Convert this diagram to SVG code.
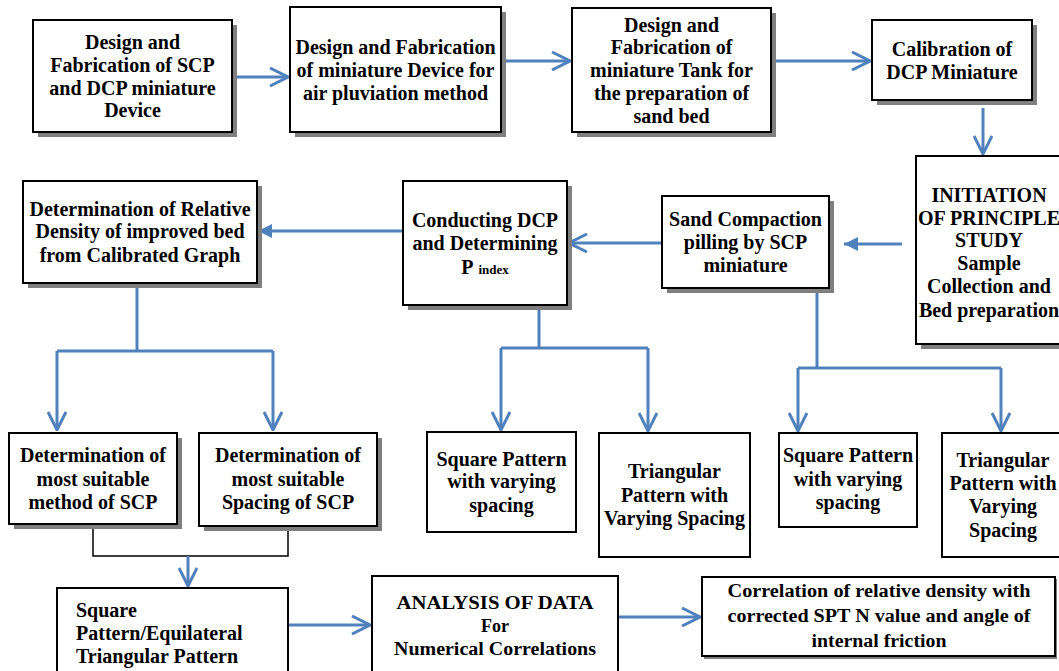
<svg xmlns="http://www.w3.org/2000/svg" width="1059" height="671" viewBox="0 0 1059 671">
  <style>
    .sh { fill: #7f7f7f; stroke: none; }
    .bx { fill: #fff; stroke: #000; stroke-width: 2; }
    .t { font-family: "Liberation Serif", "Times New Roman", serif; font-weight: bold; font-size: 20px; fill: #000; text-anchor: middle; }
    .s { font-size: 18px; }
    .l { text-anchor: start; }
    .c { fill: none; stroke: #4f81bd; stroke-width: 3; }
    .k { fill: none; stroke: #000; stroke-width: 1.5; }
  </style>
  <defs>
    <marker id="open" viewBox="0 0 20 20" refX="19" refY="10" markerWidth="20" markerHeight="20" markerUnits="userSpaceOnUse" orient="auto">
      <path d="M1,1 L19,10 L1,19" fill="none" stroke="#4f81bd" stroke-width="3"/>
    </marker>
    <marker id="solid" viewBox="0 0 14 14" refX="14" refY="7" markerWidth="14" markerHeight="14" markerUnits="userSpaceOnUse" orient="auto">
      <path d="M0,0 L14,7 L0,14 Z" fill="#4f81bd"/>
    </marker>
  </defs>

  <rect width="1059" height="671" fill="#fff"/>

  <!-- connectors -->
  <g id="connectors">
    <path class="c" d="M232,77 H288" marker-end="url(#open)"/>
    <path class="c" d="M501,61 H570" marker-end="url(#open)"/>
    <path class="c" d="M771,61 H870" marker-end="url(#open)"/>
    <path class="c" d="M983,108 V154" marker-end="url(#open)"/>
    <path class="c" d="M902,244 H844" marker-end="url(#solid)"/>
    <path class="c" d="M662,243 H569" marker-end="url(#open)"/>
    <path class="c" d="M403,231 H258" marker-end="url(#solid)"/>
    <!-- relative density branches -->
    <path class="c" d="M137,283 V351 M57,351 H273"/>
    <path class="c" d="M57,351 V430" marker-end="url(#open)"/>
    <path class="c" d="M273,351 V430" marker-end="url(#open)"/>
    <!-- DCP branches -->
    <path class="c" d="M539,305 V348 M501,348 H648"/>
    <path class="c" d="M501,348 V430" marker-end="url(#open)"/>
    <path class="c" d="M648,348 V431" marker-end="url(#open)"/>
    <!-- SCP branches -->
    <path class="c" d="M817,288 V368 M798,368 H1001"/>
    <path class="c" d="M798,368 V431" marker-end="url(#open)"/>
    <path class="c" d="M1001,368 V431" marker-end="url(#open)"/>
    <!-- join of method and spacing -->
    <path class="k" d="M93,524 V556 H288 V526"/>
    <path class="c" d="M188,556 V586" marker-end="url(#open)"/>
    <path class="c" d="M288,625 H370" marker-end="url(#open)"/>
    <path class="c" d="M618,617 H700" marker-end="url(#open)"/>
  </g>

  <g id="design-scp-dcp">
    <rect class="sh" x="38" y="25" width="199" height="112"/>
    <rect class="bx" x="33" y="20" width="199" height="112"/>
    <text class="t" x="132.5" y="49">Design and</text>
    <text class="t" x="132.5" y="72">Fabrication of SCP</text>
    <text class="t" x="132.5" y="95">and DCP miniature</text>
    <text class="t" x="132.5" y="117">Device</text>
  </g>

  <g id="design-pluviation">
    <rect class="sh" x="295" y="12" width="211" height="125"/>
    <rect class="bx" x="290" y="7" width="211" height="125"/>
    <text class="t" x="395.5" y="54">Design and Fabrication</text>
    <text class="t" x="395.5" y="77">of miniature Device for</text>
    <text class="t" x="395.5" y="100">air pluviation method</text>
  </g>

  <g id="design-tank">
    <rect class="sh" x="577" y="13" width="199" height="124"/>
    <rect class="bx" x="572" y="8" width="199" height="124"/>
    <text class="t" x="671.5" y="32">Design and</text>
    <text class="t" x="671.5" y="54">Fabrication of</text>
    <text class="t" x="671.5" y="77">miniature Tank for</text>
    <text class="t" x="671.5" y="100">the preparation of</text>
    <text class="t" x="671.5" y="123">sand bed</text>
  </g>

  <g id="calibration">
    <rect class="sh" x="877" y="25" width="160" height="80"/>
    <rect class="bx" x="872" y="20" width="160" height="80"/>
    <text class="t" x="952" y="56">Calibration of</text>
    <text class="t" x="952" y="79">DCP Miniature</text>
  </g>

  <g id="initiation">
    <rect class="sh" x="921" y="161" width="146" height="188"/>
    <rect class="bx" x="916" y="156" width="146" height="188"/>
    <text class="t" x="989" y="202">INITIATION</text>
    <text class="t" x="989" y="225">OF PRINCIPLE</text>
    <text class="t" x="989" y="247">STUDY</text>
    <text class="t" x="989" y="270">Sample</text>
    <text class="t" x="989" y="293">Collection and</text>
    <text class="t" x="989" y="317">Bed preparation</text>
  </g>

  <g id="sand-compaction">
    <rect class="sh" x="667" y="201" width="167" height="92"/>
    <rect class="bx" x="662" y="196" width="167" height="92"/>
    <text class="t" x="745.5" y="226">Sand Compaction</text>
    <text class="t" x="745.5" y="249">pilling by SCP</text>
    <text class="t" x="745.5" y="272">miniature</text>
  </g>

  <g id="conducting-dcp">
    <rect class="sh" x="408" y="186" width="164" height="124"/>
    <rect class="bx" x="403" y="181" width="164" height="124"/>
    <text class="t" x="485" y="227">Conducting DCP</text>
    <text class="t" x="485" y="250">and Determining</text>
    <text class="t" x="485" y="274">P<tspan font-size="13" dx="5">index</tspan></text>
  </g>

  <g id="relative-density">
    <rect class="sh" x="28" y="186" width="234" height="102"/>
    <rect class="bx" x="23" y="181" width="234" height="102"/>
    <text class="t" x="140" y="216">Determination of Relative</text>
    <text class="t" x="140" y="238">Density of improved bed</text>
    <text class="t" x="140" y="262">from Calibrated Graph</text>
  </g>

  <g id="suitable-method">
    <rect class="sh" x="14" y="438" width="168" height="91"/>
    <rect class="bx" x="9" y="433" width="168" height="91"/>
    <text class="t" x="93" y="462">Determination of</text>
    <text class="t" x="93" y="486">most suitable</text>
    <text class="t" x="93" y="509">method of SCP</text>
  </g>

  <g id="suitable-spacing">
    <rect class="sh" x="204" y="438" width="178" height="93"/>
    <rect class="bx" x="199" y="433" width="178" height="93"/>
    <text class="t" x="288" y="462">Determination of</text>
    <text class="t" x="288" y="486">most suitable</text>
    <text class="t" x="288" y="509">Spacing of SCP</text>
  </g>

  <g id="square-dcp">
    <rect class="bx" x="427" y="432" width="149" height="100"/>
    <text class="t" x="501.5" y="466">Square Pattern</text>
    <text class="t" x="501.5" y="488">with varying</text>
    <text class="t" x="501.5" y="512">spacing</text>
  </g>

  <g id="triangular-dcp">
    <rect class="bx" x="599" y="433" width="151" height="124"/>
    <text class="t" x="674.5" y="478">Triangular</text>
    <text class="t" x="674.5" y="502">Pattern with</text>
    <text class="t" x="674.5" y="525">Varying Spacing</text>
  </g>

  <g id="square-scp">
    <rect class="bx" x="779" y="433" width="138" height="94"/>
    <text class="t" x="848" y="462">Square Pattern</text>
    <text class="t" x="848" y="486">with varying</text>
    <text class="t" x="848" y="509">spacing</text>
  </g>

  <g id="triangular-scp">
    <rect class="bx" x="942" y="433" width="121" height="124"/>
    <text class="t" x="1003" y="467">Triangular</text>
    <text class="t" x="1003" y="490">Pattern with</text>
    <text class="t" x="1003" y="513">Varying</text>
    <text class="t" x="1003" y="537">Spacing</text>
  </g>

  <g id="square-equilateral">
    <rect class="bx" x="57" y="588" width="231" height="100"/>
    <text class="t l" x="76" y="617">Square</text>
    <text class="t l" x="76" y="640">Pattern/Equilateral</text>
    <text class="t l" x="76" y="663">Triangular Pattern</text>
  </g>

  <g id="analysis">
    <rect class="bx" x="372" y="576" width="246" height="110"/>
    <text class="t s" x="495" y="609" textLength="197" lengthAdjust="spacingAndGlyphs">ANALYSIS OF DATA</text>
    <text class="t s" x="495" y="632">For</text>
    <text class="t s" x="495" y="655" textLength="202" lengthAdjust="spacingAndGlyphs">Numerical Correlations</text>
  </g>

  <g id="correlation">
    <rect class="sh" x="704" y="579" width="353" height="80"/>
    <rect class="bx" x="702" y="577" width="353" height="79"/>
    <text class="t s" x="879" y="597" textLength="303" lengthAdjust="spacingAndGlyphs">Correlation of relative density with</text>
    <text class="t s" x="879" y="622" textLength="303" lengthAdjust="spacingAndGlyphs">corrected SPT N value and angle of</text>
    <text class="t s" x="879" y="647" textLength="135" lengthAdjust="spacingAndGlyphs">internal friction</text>
  </g>
</svg>
